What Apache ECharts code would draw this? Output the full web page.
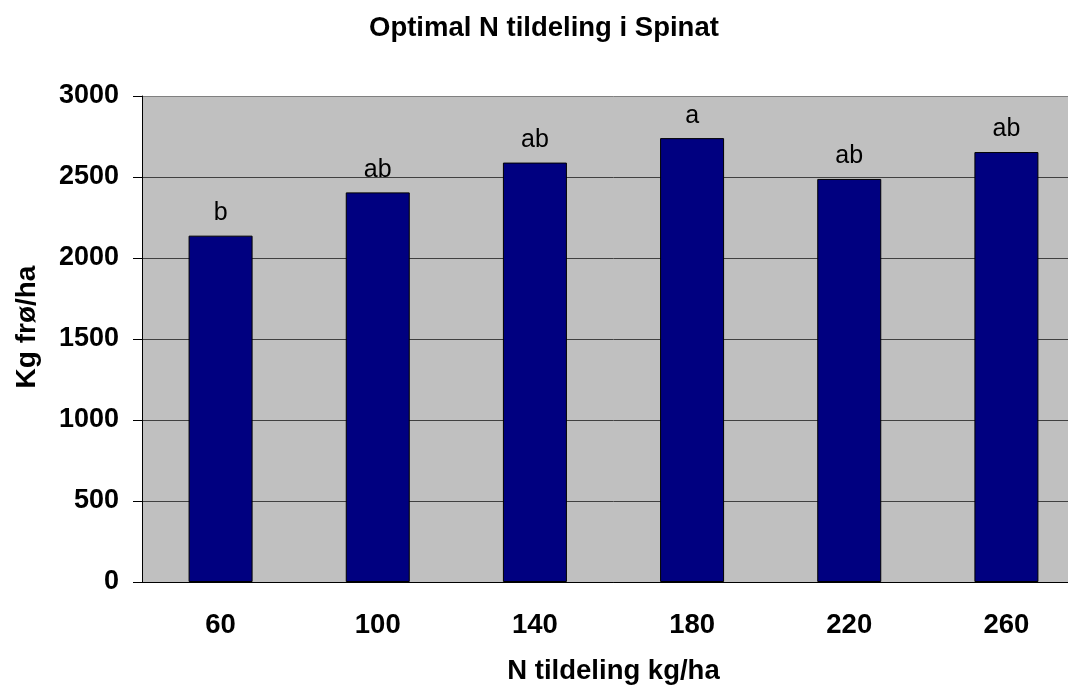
<!DOCTYPE html>
<html>
<head>
<meta charset="utf-8">
<title>Optimal N tildeling i Spinat</title>
<script src="https://cdn.jsdelivr.net/npm/echarts@6/dist/echarts.min.js"></script>
<style>
  html, body { margin: 0; padding: 0; background: #ffffff; overflow: hidden; }
  /* the plot runs a little past the right edge of the window */
  #chart { width: 1085px; height: 690px; }
</style>
</head>
<body>
<div id="chart"></div>
<script>
// N application rates (kg/ha) and seed yield (kg/ha)
const categories = ['60', '100', '140', '180', '220', '260'];
const yieldValues = [2138, 2405, 2589, 2740, 2488, 2654];
// significance letters above each bar
const groupLetters = ['b', 'ab', 'ab', 'a', 'ab', 'ab'];
const yTicks = [0, 500, 1000, 1500, 2000, 2500, 3000];

const FONT = '"Liberation Sans", Arial, sans-serif';

const chart = echarts.init(document.getElementById('chart'), null, { renderer: 'canvas' });

chart.setOption({
  animation: false,
  backgroundColor: '#ffffff',
  title: {
    text: 'Optimal N tildeling i Spinat',
    left: 364,
    top: 9,
    textStyle: { fontFamily: FONT, fontSize: 27.5, fontWeight: 'bold', color: '#000' }
  },
  graphic: [{
    type: 'text',
    x: 27,
    y: 327,
    rotation: Math.PI / 2,
    style: {
      text: 'Kg frø/ha',
      font: 'bold 28px ' + FONT,
      fill: '#000',
      align: 'center',
      verticalAlign: 'middle'
    }
  }],
  grid: {
    left: 142,
    top: 96,
    right: 0,
    height: 487,
    show: true,
    backgroundColor: '#c0c0c0',
    borderWidth: 0
  },
  xAxis: {
    type: 'category',
    data: categories,
    name: 'N tildeling kg/ha',
    nameLocation: 'middle',
    nameGap: 75,
    nameTextStyle: { fontFamily: FONT, fontSize: 27.5, fontWeight: 'bold', color: '#000' },
    axisLine: { lineStyle: { color: '#000', width: 1 } },
    axisTick: { length: 8, lineStyle: { color: '#404040' } },
    axisLabel: {
      margin: 29,
      fontFamily: FONT, fontSize: 27.5, fontWeight: 'bold', color: '#000'
    },
    splitLine: { show: false }
  },
  yAxis: {
    type: 'value',
    min: yTicks[0],
    max: yTicks[yTicks.length - 1],
    interval: yTicks[1] - yTicks[0],
    axisLine: { show: true, lineStyle: { color: '#000', width: 1 } },
    axisTick: { show: true, length: 9, lineStyle: { color: '#000' } },
    axisLabel: {
      margin: 23,
      formatter: v => String(v),
      fontFamily: FONT, fontSize: 27, fontWeight: 'bold', color: '#000'
    },
    splitLine: {
      show: true,
      lineStyle: {
        color: ['#000', '#404040', '#404040', '#404040', '#404040', '#404040', '#808080'],
        width: 1
      }
    }
  },
  series: [{
    type: 'bar',
    data: yieldValues,
    barWidth: 64,
    itemStyle: { color: '#000080', borderColor: '#000', borderWidth: 1 },
    label: {
      show: true,
      position: 'top',
      distance: 10,
      formatter: p => groupLetters[p.dataIndex],
      fontFamily: FONT,
      fontSize: 25,
      color: '#000'
    }
  }]
});
</script>
</body>
</html>
